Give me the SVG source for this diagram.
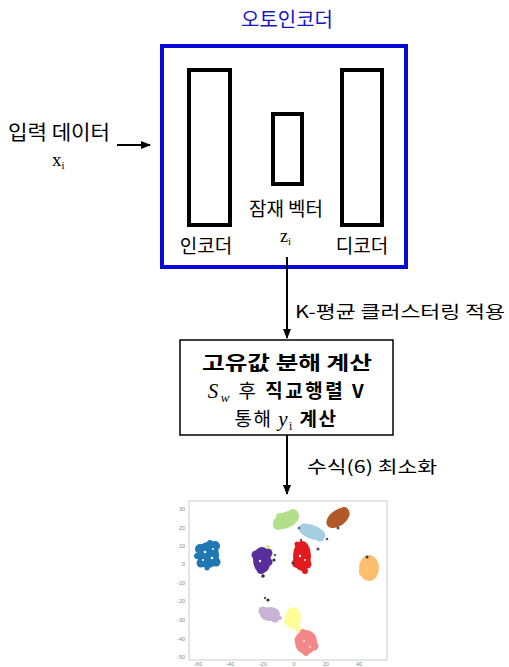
<svg xmlns="http://www.w3.org/2000/svg" width="509" height="667" viewBox="0 0 509 667">
<style>
.k{font-family:"Noto Sans CJK KR","Noto Sans",sans-serif;fill:#000}
.s{font-family:"Liberation Serif",serif;fill:#000}
.blk{fill:none;stroke:#000;stroke-width:4}
.ln{stroke:#000;stroke-width:2;fill:none}
.tick{font-family:"Liberation Sans",sans-serif;font-size:5.5px;fill:#888}
</style>
<defs>
<marker id="ah" markerWidth="10" markerHeight="10" refX="9" refY="5" orient="auto" markerUnits="userSpaceOnUse">
<path d="M0,1 L10,5 L0,9 Z" fill="#000"/>
</marker>
</defs>
<rect width="509" height="667" fill="#fff"/>

<g id="autoencoder">
<text class="k" x="287" y="27" font-size="20" text-anchor="middle" style="fill:#1414c8">오토인코더</text>
<rect x="162" y="46" width="244" height="221" fill="none" stroke="#0a0ad8" stroke-width="4"/>
</g>
<g id="encoder">
<rect class="blk" x="189" y="70" width="41" height="155"/>
<text class="k" x="206" y="253" font-size="19" text-anchor="middle">인코더</text>
</g>
<g id="latent">
<rect class="blk" x="273" y="114" width="29" height="70"/>
<text class="k" x="286" y="216" font-size="19" text-anchor="middle">잠재 벡터</text>
<text class="s" x="280" y="242" font-size="18">z<tspan font-size="11" dy="3">i</tspan></text>
</g>
<g id="decoder">
<rect class="blk" x="342" y="70" width="40" height="155"/>
<text class="k" x="362" y="253" font-size="19" text-anchor="middle">디코더</text>
</g>
<g id="input">
<text class="k" x="8" y="140" font-size="20" textLength="102" lengthAdjust="spacingAndGlyphs">입력 데이터</text>
<text class="s" x="52" y="166" font-size="19">x<tspan font-size="11" dy="3">i</tspan></text>
</g>
<g id="eigen">
<rect x="180" y="340" width="213" height="95" fill="#fff" stroke="#000" stroke-width="1.5"/>
<text class="k" x="202" y="370" font-size="19" font-weight="bold" textLength="170" lengthAdjust="spacingAndGlyphs">고유값 분해 계산</text>
<text class="k" x="287" y="398" font-size="19" letter-spacing="2.5" text-anchor="middle"><tspan class="s" font-style="italic" font-size="21">S</tspan><tspan class="s" font-style="italic" font-size="13" dy="4">w</tspan><tspan dy="-4"> 후 </tspan><tspan font-weight="bold">직교행렬 V</tspan></text>
<text class="k" x="286" y="426" font-size="19" letter-spacing="1.5" text-anchor="middle">통해 <tspan class="s" font-style="italic" font-size="21">y</tspan><tspan class="s" font-size="12" dy="4">i</tspan><tspan dy="-4" font-weight="bold"> 계산</tspan></text>
</g>
<g id="connectors">
<line class="ln" x1="117" y1="145" x2="150" y2="145" marker-end="url(#ah)"/>
<line class="ln" x1="287" y1="257" x2="287" y2="338" marker-end="url(#ah)"/>
<line class="ln" x1="287" y1="435" x2="287" y2="494" marker-end="url(#ah)"/>
<text class="k" x="295" y="318" font-size="17" textLength="210" lengthAdjust="spacingAndGlyphs">K-평균 클러스터링 적용</text>
<text class="k" x="307" y="473" font-size="17" textLength="130" lengthAdjust="spacingAndGlyphs">수식(6) 최소화</text>
</g>

<g id="scatter">
<rect x="189" y="501" width="198" height="159" fill="#fff" stroke="#ccc" stroke-width="1"/>
<g class="tick" text-anchor="end">
<text x="185" y="511">30</text><text x="185" y="530">20</text><text x="185" y="548">10</text><text x="185" y="566">0</text>
<text x="185" y="585">-10</text><text x="185" y="603">-20</text><text x="185" y="622">-30</text><text x="185" y="641">-40</text><text x="185" y="659">-50</text>
</g>
<g class="tick" text-anchor="middle">
<text x="198" y="666">-60</text><text x="230" y="666">-40</text><text x="263" y="666">-20</text><text x="294" y="666">0</text><text x="326" y="666">20</text><text x="359" y="666">40</text>
</g>
<g fill="#1f78b4">
<ellipse cx="208" cy="555" rx="11" ry="13"/>
<circle cx="200" cy="549" r="5"/><circle cx="215" cy="546" r="5"/><circle cx="216" cy="562" r="4.5"/><circle cx="201" cy="563" r="4.5"/><circle cx="210" cy="543" r="3"/><circle cx="207" cy="568" r="2.5"/><circle cx="197" cy="556" r="3"/>
<circle cx="205" cy="552" r="1.3" fill="#fff"/><circle cx="212" cy="558" r="1.3" fill="#fff"/><circle cx="203" cy="560" r="1" fill="#fff"/><circle cx="213" cy="549" r="1" fill="#fff"/>
</g>
<g fill="#5a2d9c">
<ellipse cx="262" cy="560" rx="9" ry="13"/>
<circle cx="256" cy="555" r="4.5"/><circle cx="268" cy="553" r="4.5"/><circle cx="261" cy="570" r="4"/><circle cx="269" cy="562" r="3.5"/><circle cx="263" cy="576" r="1.8" fill="#333"/><circle cx="274" cy="560" r="1.6" fill="#333"/><circle cx="275" cy="555" r="1.2" fill="#555"/>
<circle cx="268" cy="547" r="2" fill="#e8e080"/><circle cx="260" cy="561" r="1.2" fill="#fff"/>
</g>
<g fill="#b2df8a">
<ellipse cx="286" cy="520" rx="14" ry="8" transform="rotate(-25 286 520)"/>
<circle cx="278" cy="525" r="5"/><circle cx="293" cy="514" r="5"/><circle cx="280" cy="517" r="4"/><circle cx="290" cy="523" r="3"/>
</g>
<g fill="#a6cee3">
<ellipse cx="312" cy="532" rx="14" ry="7" transform="rotate(20 312 532)"/>
<circle cx="304" cy="528" r="4.5"/><circle cx="320" cy="537" r="4.5"/><circle cx="312" cy="531" r="5"/>
<circle cx="299" cy="528" r="1.2" fill="#555"/><circle cx="318" cy="549" r="1.6" fill="#555"/><circle cx="327" cy="539" r="1.3" fill="#555"/><circle cx="301" cy="540" r="1.2" fill="#555"/>
</g>
<g fill="#b15928">
<ellipse cx="338" cy="518" rx="13" ry="8" transform="rotate(-35 338 518)"/>
<circle cx="344" cy="512" r="5"/><circle cx="332" cy="523" r="5"/><circle cx="340" cy="519" r="4"/><circle cx="338" cy="528" r="1.5" fill="#555"/>
</g>
<g fill="#e31a1c">
<ellipse cx="302" cy="556" rx="9" ry="15"/>
<circle cx="297" cy="563" r="5"/><circle cx="307" cy="564" r="4.5"/><circle cx="300" cy="548" r="4.5"/><circle cx="305" cy="571" r="3"/><circle cx="297" cy="544" r="2.5"/>
<circle cx="293" cy="563" r="1.6" fill="#444"/><circle cx="300" cy="556" r="1.2" fill="#fff"/><circle cx="305" cy="560" r="1" fill="#fff"/>
</g>
<g fill="#fdbf6f">
<ellipse cx="369" cy="568" rx="10" ry="13"/>
<circle cx="363" cy="572" r="4"/><circle cx="374" cy="565" r="4"/>
<circle cx="367" cy="557" r="1.6" fill="#444"/>
</g>
<g fill="#cab2d6">
<ellipse cx="270" cy="614" rx="10" ry="7"/>
<circle cx="263" cy="611" r="4.5"/><circle cx="275" cy="618" r="4.5"/><circle cx="280" cy="618" r="2"/>
<circle cx="268" cy="600" r="1.6" fill="#333"/><circle cx="265" cy="598" r="1.2" fill="#555"/>
</g>
<g fill="#ffff99">
<ellipse cx="293" cy="618" rx="8" ry="11"/>
<circle cx="298" cy="629" r="3"/><circle cx="287" cy="622" r="3"/>
</g>
<g fill="#f4878a">
<ellipse cx="306" cy="642" rx="11" ry="12"/>
<circle cx="299" cy="640" r="4.5"/><circle cx="314" cy="646" r="4.5"/><circle cx="306" cy="653" r="3"/><circle cx="303" cy="632" r="3"/>
<circle cx="304" cy="641" r="1.2" fill="#fcc"/><circle cx="310" cy="647" r="1.2" fill="#fcc"/>
</g>
</g>
</svg>
